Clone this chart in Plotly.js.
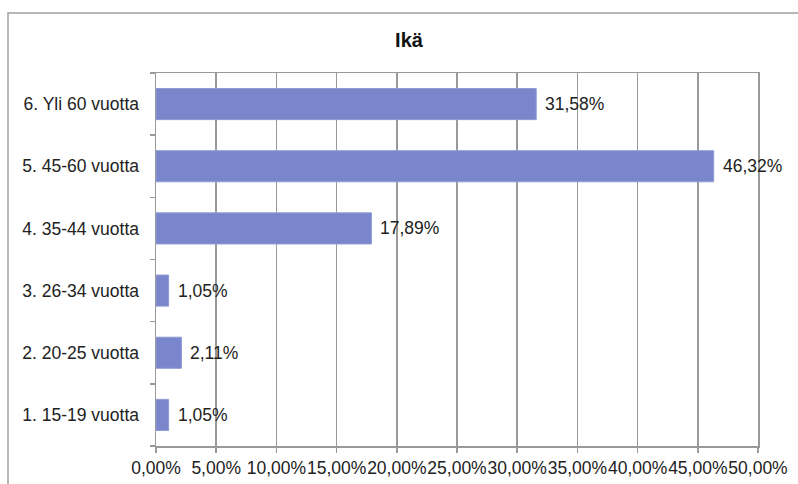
<!DOCTYPE html>
<html>
<head>
<meta charset="utf-8">
<script src="https://cdn.plot.ly/plotly-3.0.1.min.js"></script>
<style>
  html, body { margin: 0; padding: 0; background: #ffffff; }
  #chart { width: 798px; height: 484px; }
</style>
</head>
<body>
<div id="chart"></div>
<script>
// Age groups (bottom to top) and their shares in percent
const ageGroups = [
  "1. 15-19 vuotta",
  "2. 20-25 vuotta",
  "3. 26-34 vuotta",
  "4. 35-44 vuotta",
  "5. 45-60 vuotta",
  "6. Yli 60 vuotta"
];
const sharePercent = [1.05, 2.11, 1.05, 17.89, 46.32, 31.58];
const tickValues = [0, 5, 10, 15, 20, 25, 30, 35, 40, 45, 50];
const tickLabels = ["0,00%", "5,00%", "10,00%", "15,00%", "20,00%", "25,00%",
                    "30,00%", "35,00%", "40,00%", "45,00%", "50,00%"];

const FONT = "Liberation Sans, Arial, sans-serif";
const GRID = "#9a9a9a";
const FS = 17.5;

const bars = {
  type: "bar",
  orientation: "h",
  x: sharePercent,
  y: ageGroups,
  width: 0.5,
  marker: { color: "#7986cb", line: { color: "#8f9bd6", width: 1 } },
  hoverinfo: "skip"
};

// Value labels to the right of each bar
const valueLabels = sharePercent.map((v, i) => ({
  x: v,
  y: ageGroups[i],
  xref: "x",
  yref: "y",
  text: v.toFixed(2).replace(".", ",") + "%",
  showarrow: false,
  xanchor: "left",
  yanchor: "middle",
  xshift: 7,
  font: { family: FONT, size: FS, color: "#222222" }
}));

const layout = {
  width: 798,
  height: 484,
  margin: { l: 156, r: 40, t: 73, b: 38 },
  paper_bgcolor: "#ffffff",
  plot_bgcolor: "#ffffff",
  showlegend: false,
  title: {
    text: "<b>Ikä</b>",
    x: 409 / 798,
    xanchor: "center",
    y: 1 - 40 / 484,
    yanchor: "middle",
    font: { family: FONT, size: 20, color: "#111111" }
  },
  xaxis: {
    range: [0, 50],
    tickmode: "array",
    tickvals: tickValues,
    ticktext: tickLabels,
    tickangle: 0,
    showgrid: true,
    gridcolor: GRID,
    gridwidth: 1.5,
    zeroline: false,
    showline: true,
    linecolor: GRID,
    linewidth: 1.5,
    mirror: true,
    ticks: "outside",
    ticklen: 5,
    tickcolor: GRID,
    tickwidth: 1.5,
    tickfont: { family: FONT, size: FS, color: "#222222" },
    fixedrange: true
  },
  yaxis: {
    type: "category",
    categoryorder: "array",
    categoryarray: ageGroups,
    showgrid: false,
    zeroline: false,
    showline: true,
    linecolor: GRID,
    linewidth: 1.5,
    mirror: true,
    ticks: "outside",
    tickson: "boundaries",
    ticklen: 5,
    tickcolor: GRID,
    tickwidth: 1.5,
    ticklabelstandoff: 12,
    tickfont: { family: FONT, size: FS, color: "#222222" },
    fixedrange: true
  },
  annotations: valueLabels,
  shapes: [
    {
      // outer chart frame
      type: "rect",
      xref: "paper",
      yref: "paper",
      x0: (8 - 156) / 602,
      x1: 1.2,
      y0: -0.3,
      y1: (446 - 13) / 373,
      line: { color: "#a0a0a0", width: 1.5 },
      layer: "below"
    }
  ],
  bargap: 0.5
};

Plotly.newPlot("chart", [bars], layout, { displayModeBar: false, staticPlot: true });
</script>
</body>
</html>
